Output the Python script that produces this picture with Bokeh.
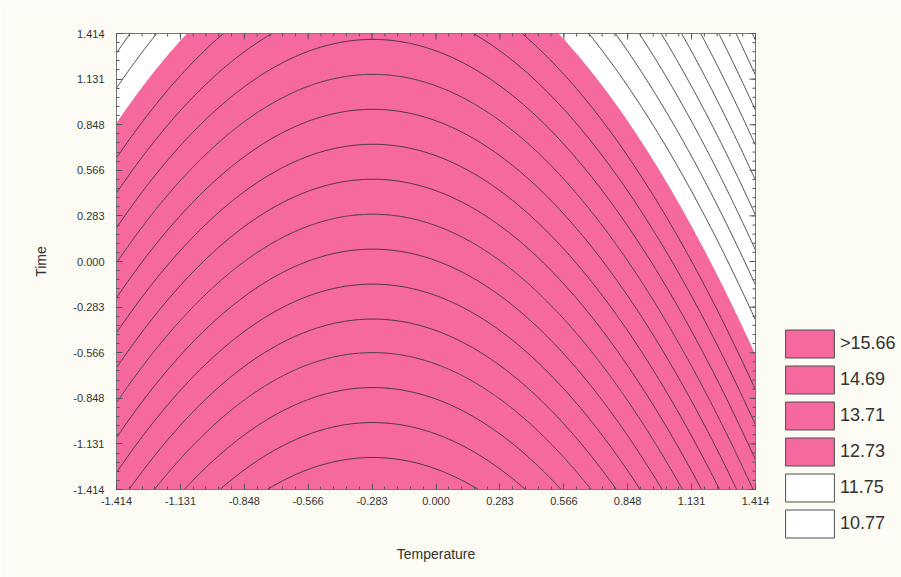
import numpy as np
from bokeh.plotting import figure
from bokeh.models import FixedTicker, Range1d, Legend, LegendItem
from bokeh.core.properties import value
from bokeh.embed import file_html
from bokeh.resources import INLINE

# ---------------- data ----------------
tick_values = [-1.414, -1.131, -0.848, -0.566, -0.283, 0.0, 0.283, 0.566, 0.848, 1.131, 1.414]
tick_labels = ["-1.414", "-1.131", "-0.848", "-0.566", "-0.283", "0.000",
               "0.283", "0.566", "0.848", "1.131", "1.414"]

# quadratic response surface (coded Temperature T, coded Time t)
coef_const = 14.941
coef_T = -0.575
coef_t = -1.13
coef_TT = -1.027
coef_tt = 0.0
coef_Tt = 0.0

fill_levels = [9.0, 10.77, 11.75, 12.73, 13.71, 14.69, 15.66, 18.0]
line_levels = [10.525, 10.77, 11.015, 11.26, 11.505, 11.75, 11.995, 12.24, 12.485,
               12.975, 13.22, 13.465, 13.71, 13.955, 14.20, 14.445, 14.69, 14.935,
               15.18, 15.425, 15.66, 15.905, 16.15, 16.395]

legend_labels = [">15.66", "14.69", "13.71", "12.73", "11.75", "10.77"]

# ---------------- style / layout ----------------
PINK = "#F5699F"
WHITE = "#FFFFFF"
BG = "#FCFBF4"
FONT = "Liberation Sans"
AXC = "#7a7a7a"
TKC = "#555555"
TXT = "#333333"
fill_colors = [WHITE, WHITE, WHITE, PINK, PINK, PINK, PINK]
legend_fill = [PINK, PINK, PINK, PINK, WHITE, WHITE]

W, H = 901, 577
LO, HI = -1.414, 1.414
PL, PR, PT, PB = 116, 755, 33, 489          # plot area in canvas pixels
sx = (HI - LO) / (PR - PL)
sy = (HI - LO) / (PB - PT)


def px_x(px):
    return LO + (px - PL) * sx


def px_y(py):
    return HI - (py - PT) * sy


gx = np.linspace(LO, HI, 301)
gy = np.linspace(LO, HI, 301)
X, Y = np.meshgrid(gx, gy)
Z = (coef_const + coef_T * X + coef_t * Y + coef_TT * X ** 2
     + coef_tt * Y ** 2 + coef_Tt * X * Y)

p = figure(width=W, height=H, title=None,
           x_range=Range1d(px_x(0), px_x(W)), y_range=Range1d(px_y(H), px_y(0)),
           output_backend="svg", toolbar_location=None, min_border=0)
p.background_fill_color = BG
p.border_fill_color = BG
p.outline_line_color = None
p.grid.visible = False

# plot area
p.quad(left=[LO], right=[HI], bottom=[LO], top=[HI], fill_color=WHITE, line_color=None)
p.contour(gx, gy, Z, levels=fill_levels, fill_color=fill_colors, line_color=None)
p.contour(gx, gy, Z, levels=line_levels, fill_color=None,
          line_color="#3a3036", line_width=1, line_alpha=0.9)
p.quad(left=[LO], right=[HI], bottom=[LO], top=[HI], fill_color=None,
       line_color=AXC, line_width=1)

minor = list(np.round(np.linspace(LO, HI, 51), 4))
ticker = FixedTicker(ticks=tick_values, minor_ticks=minor)
overrides = {v: s for v, s in zip(tick_values, tick_labels)}

for ax in (p.xaxis[0], p.yaxis[0]):
    ax.fixed_location = LO
    ax.ticker = ticker
    ax.major_label_overrides = overrides
    ax.major_tick_in = 6
    ax.major_tick_out = 0
    ax.minor_tick_in = 3
    ax.minor_tick_out = 0
    ax.axis_line_color = None
    ax.major_tick_line_color = TKC
    ax.minor_tick_line_color = TKC
    ax.major_label_text_font = FONT
    ax.major_label_text_font_size = "11px"
    ax.major_label_text_color = TXT
p.xaxis.major_label_standoff = 7
p.yaxis.major_label_standoff = 12
p.yaxis.major_label_orientation = "horizontal"

# axis titles
p.text(x=[(LO + HI) / 2], y=[px_y(553)], text=["Temperature"], text_align="center",
       text_baseline="middle", text_font=value(FONT), text_font_size="14px",
       text_color=TXT)
p.text(x=[px_x(40)], y=[(LO + HI) / 2], text=["Time"], angle=np.pi / 2,
       text_align="center", text_baseline="middle", text_font=value(FONT),
       text_font_size="14px", text_color=TXT)

# inward tick marks on the top and right frame edges
tv = np.array(tick_values)
mv = np.array(minor)
p.segment(x0=tv, y0=np.full(len(tv), HI), x1=tv, y1=np.full(len(tv), HI - 6 * sy),
          line_color=TKC, line_width=1)
p.segment(x0=mv, y0=np.full(len(mv), HI), x1=mv, y1=np.full(len(mv), HI - 3 * sy),
          line_color=TKC, line_width=1)
p.segment(x0=np.full(len(tv), HI), y0=tv, x1=np.full(len(tv), HI - 6 * sx), y1=tv,
          line_color=TKC, line_width=1)
p.segment(x0=np.full(len(mv), HI), y0=mv, x1=np.full(len(mv), HI - 3 * sx), y1=mv,
          line_color=TKC, line_width=1)

# ---------------- legend ----------------
items = []
for lab, col in zip(legend_labels, legend_fill):
    r = p.quad(left=[np.nan], right=[np.nan], top=[np.nan], bottom=[np.nan],
               fill_color=col, line_color="#4d4d4d", line_width=1)
    items.append(LegendItem(label=lab, renderers=[r]))

GW, GH, SP = 61, 35, 1       # glyph box is drawn inset by 10% on each side
leg_h = len(items) * GH + (len(items) - 1) * SP
leg_left = int(round(785 - 0.1 * GW))
leg_top = 329 - 0.1 * GH
leg_bottom_offset = int(round(H - leg_top - leg_h))

legend = Legend(items=items, location=(leg_left, leg_bottom_offset), orientation="vertical",
                glyph_width=GW, glyph_height=GH, spacing=SP, padding=0, margin=0,
                label_standoff=0, label_height=GH,
                label_text_font=FONT, label_text_font_size="18px",
                label_text_color=TXT, label_text_baseline="middle",
                border_line_color=None, background_fill_alpha=0)
p.add_layout(legend, "center")

open("out.html", "w").write(file_html(p, INLINE))
